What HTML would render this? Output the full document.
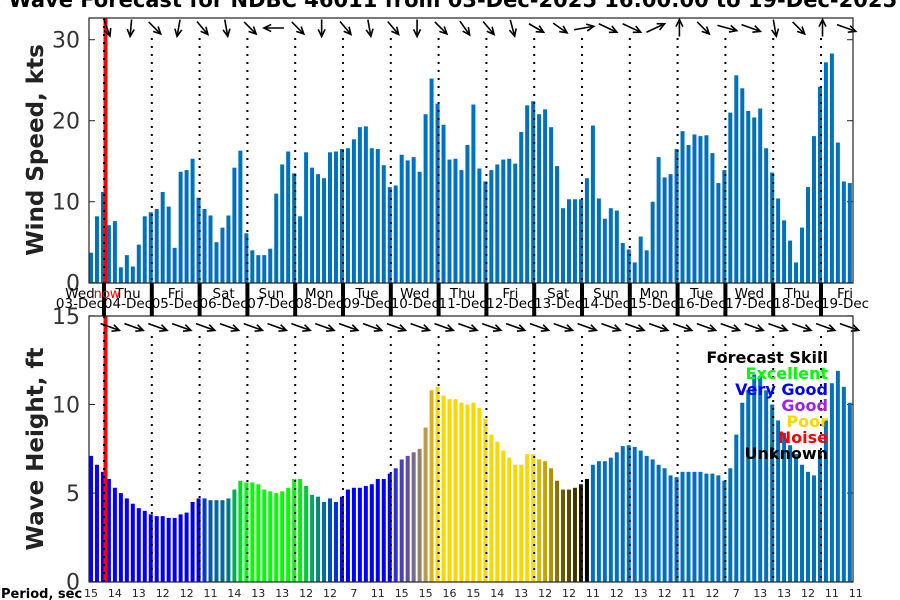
<!DOCTYPE html>
<html><head><meta charset="utf-8"><style>
html,body{margin:0;padding:0;background:#fff;}
svg{display:block;font-family:"DejaVu Sans","Liberation Sans",sans-serif;}
</style></head><body>
<svg id="chart" width="900" height="600" viewBox="0 0 900 600" xmlns="http://www.w3.org/2000/svg">
<text x="462" y="7" text-anchor="middle" font-size="21" font-weight="bold" fill="#000">Wind &amp; Wave Forecast for NDBC 46011 from 03-Dec-2025 16:00:00 to 19-Dec-2025 13:00:00</text>
<g id="wind"></g>
<g id="wave"></g>
<g id="days"></g>
<text transform="translate(43,150) rotate(-90)" text-anchor="middle" font-size="23" font-weight="bold" fill="#222">Wind Speed, kts</text>
<text transform="translate(43,449) rotate(-90)" text-anchor="middle" font-size="23" font-weight="bold" fill="#222">Wave Height, ft</text>
<text x="1" y="598" font-size="13" font-weight="bold" fill="#000">Period, sec</text>
<g font-size="16" font-weight="bold" text-anchor="end">
<text x="828" y="363" fill="#000">Forecast Skill</text>
<text x="828" y="379" fill="#00ff00">Excellent</text>
<text x="828" y="395" fill="#0000ff">Very Good</text>
<text x="828" y="411" fill="#a020f0">Good</text>
<text x="828" y="427" fill="#ffd700">Poor</text>
<text x="828" y="443" fill="#ff0000">Noise</text>
<text x="828" y="459" fill="#000">Unknown</text>
</g>
</svg>
<script>
const windSpeed=[3.7,8.2,11.2,7.1,7.6,1.9,3.4,2.0,4.7,8.2,8.7,9.1,11.2,9.4,4.3,13.7,13.9,15.3,10.5,9.1,8.3,5.0,6.8,8.3,14.2,16.3,6.1,4.0,3.4,3.4,4.2,11.0,14.6,16.2,13.5,8.2,16.1,14.2,13.4,12.9,16.1,16.2,16.5,16.6,17.7,19.2,19.3,16.6,16.5,14.5,11.8,12.0,15.8,15.1,15.5,13.7,20.8,25.2,22.1,19.5,15.2,15.3,13.9,17.0,22.0,14.1,12.5,13.9,14.6,15.2,15.3,14.7,18.6,21.9,22.4,20.8,21.4,19.2,14.4,9.2,10.3,10.3,10.3,12.9,19.4,10.4,7.9,9.2,8.9,4.9,4.1,2.5,5.7,4.0,10.0,15.5,13.0,13.4,16.5,18.7,17.0,18.3,18.1,18.2,16.0,12.3,13.9,21.0,25.6,24.0,21.2,20.4,21.5,16.6,13.6,10.4,7.7,5.2,2.5,6.8,11.8,18.1,24.2,27.2,28.3,17.3,12.5,12.3];
const waveHeight=[7.1,6.6,6.2,5.8,5.3,5.0,4.7,4.4,4.15,4.0,3.8,3.7,3.7,3.6,3.6,3.8,3.9,4.5,4.7,4.7,4.6,4.6,4.6,4.7,5.2,5.7,5.6,5.6,5.5,5.2,5.1,5.0,5.1,5.3,5.8,5.8,5.4,4.9,4.8,4.5,4.7,4.5,4.8,5.2,5.3,5.3,5.4,5.5,5.8,5.8,6.1,6.4,6.9,7.1,7.3,7.5,8.7,10.8,11.0,10.5,10.3,10.3,10.1,10.0,10.1,9.8,9.2,8.3,7.9,7.4,7.0,6.6,6.6,7.2,7.2,6.9,6.8,6.4,5.7,5.2,5.2,5.3,5.5,5.8,6.6,6.8,6.8,7.0,7.3,7.65,7.7,7.6,7.4,7.1,6.9,6.6,6.4,6.0,5.9,6.2,6.2,6.2,6.2,6.1,6.1,6.0,5.7,6.4,8.3,10.1,10.8,11.7,11.6,10.8,10.0,9.1,8.4,7.7,7.2,6.6,6.2,6.0,7.3,9.1,11.2,11.9,11.0,10.1];
const waveColors=["#0000ff","#0000ff","#0000ff","#0000ff","#0000ff","#0000ff","#0000ff","#0000ff","#0000ff","#0000ff","#0000ff","#0000ff","#0000ff","#0000ff","#0000ff","#0000ff","#0000ff","#0000ff","#0000ff","#0040c0","#005aa8","#00689a","#006a98","#007890","#00b050","#00e020","#00ff00","#00ff00","#00ff00","#00ff00","#00ff00","#00ff00","#00ff00","#00ff00","#00ff00","#00f010","#00cc33","#00a860","#008a78","#00709a","#0050c0","#0030e0","#0010f0","#0000ff","#0000ff","#0000ff","#0000ff","#0000ff","#0000ff","#0000ff","#0000ff","#3030d8","#4a40b8","#6050a0","#786a8a","#9a8070","#b89a50","#d8b020","#ffd700","#ffd700","#ffd700","#ffd700","#ffd700","#ffd700","#ffd700","#ffd700","#ffd700","#ffd700","#ffd700","#ffd700","#ffd700","#ffd700","#ffd700","#ffd700","#ffd700","#dcb800","#c8a400","#b09000","#8a7400","#6a5a00","#584a00","#403400","#201a00","#000000","#0072bd","#0072bd","#0072bd","#0072bd","#0072bd","#0072bd","#0072bd","#0072bd","#0072bd","#0072bd","#0072bd","#0072bd","#0072bd","#0072bd","#0072bd","#0072bd","#0072bd","#0072bd","#0072bd","#0072bd","#0072bd","#0072bd","#0072bd","#0072bd","#0072bd","#0072bd","#0072bd","#0072bd","#0072bd","#0072bd","#0072bd","#0072bd","#0072bd","#0072bd","#0072bd","#0072bd","#0072bd","#0072bd","#0072bd","#0072bd","#0072bd","#0072bd","#0072bd","#0072bd"];
const windArrowAngles=[70,95,45,100,50,80,45,180,45,90,50,80,50,90,45,55,50,75,30,35,-10,25,25,-25,-90,45,15,20,80,45,-90,20];
const waveArrowAngles=[20,20,20,20,20,20,20,20,20,20,20,20,20,20,20,20,20,20,20,20,20,20,20,20,20,20,20,20,20,20,20,20];
const periodLabels=["15","14","13","12","12","11","14","13","13","12","12","7","11","15","15","16","15","14","13","12","12","11","12","13","12","11","12","7","13","13","12","11","11"];
const windTicks=[0,10,20,30];
const waveTicks=[0,5,10,15];
const weekdays=["Wed","Thu","Fri","Sat","Sun","Mon","Tue","Wed","Thu","Fri","Sat","Sun","Mon","Tue","Wed","Thu","Fri"];
const dates=["03-Dec","04-Dec","05-Dec","06-Dec","07-Dec","08-Dec","09-Dec","10-Dec","11-Dec","12-Dec","13-Dec","14-Dec","15-Dec","16-Dec","17-Dec","18-Dec","19-Dec"];

const NS="http://www.w3.org/2000/svg";
function mk(tag,attrs,parent){const e=document.createElementNS(NS,tag);for(const k in attrs)e.setAttribute(k,attrs[k]);parent.appendChild(e);return e;}
const L=89,R=853;
const xBar=i=>91+i*5.975;
const dayX=d=>104+d*47.8;
const yWind=v=>282.7-v*8.1;
const yWave=v=>581.7-v*17.72;
const wind=document.getElementById('wind'),wave=document.getElementById('wave'),days=document.getElementById('days');

function panel(g,top,bot,ticks,yf,name){
  const bx=mk('rect',{x:L,y:top,width:R-L,height:bot-top,fill:'#fff',stroke:'none'},g);
  
  
  ticks.forEach(t=>{
    const y=yf(t);
    const tl=mk('line',{x1:L,x2:L+6,y1:y,y2:y,stroke:'#222','stroke-width':1},g);
    
    
    const tr=mk('line',{x1:R-6,x2:R,y1:y,y2:y,stroke:'#222','stroke-width':1},g);
    
    
    const tx=mk('text',{x:L-9,y:y+8,'text-anchor':'end','font-size':22,fill:'#333'},g);
    tx.textContent=t;
    
    
  });
}
panel(wind,18,283,windTicks,yWind,'wind');
panel(wave,316,582,waveTicks,yWave,'wave');

windSpeed.forEach((v,i)=>{
  const r=mk('rect',{x:xBar(i)-2,y:yWind(v),width:4,height:yWind(0)-yWind(v),fill:'#0072bd'},wind);
  
  
});
waveHeight.forEach((v,i)=>{
  const r=mk('rect',{x:xBar(i)-2,y:yWave(v),width:4,height:yWave(0)-yWave(v),fill:waveColors[i]||'#0072bd'},wave);
  
  
});

for(let d=1;d<=15;d++){
  const x=dayX(d);
  [[wind,18,283],[wave,316,582]].forEach(([g,a,b])=>{
    const l=mk('line',{x1:x,x2:x,y1:a+20,y2:b,stroke:'#000','stroke-width':2,'stroke-dasharray':'2 6'},g);
    
    
  });
}
const nowX=105.5;
[[wind,18,283],[wave,316,582]].forEach(([g,a,b])=>{
  const l=mk('rect',{x:nowX-2,y:a,width:4,height:b-a,fill:'#ff0000'},g);
  
  
  const d=mk('line',{x1:104,x2:104,y1:a,y2:b,stroke:'#000','stroke-width':2,'stroke-dasharray':'2 6'},g);
  
  
});

function arrow(g,cx,cy,ang,len,name){
  const a=ang*Math.PI/180,dx=Math.cos(a),dy=Math.sin(a);
  const x1=cx-dx*len/2,y1=cy-dy*len/2,x2=cx+dx*len/2,y2=cy+dy*len/2;
  const h=8,sp=0.45;
  const p=mk('path',{d:`M${x1},${y1}L${x2},${y2}M${x2-h*Math.cos(a-sp)},${y2-h*Math.sin(a-sp)}L${x2},${y2}L${x2-h*Math.cos(a+sp)},${y2-h*Math.sin(a+sp)}`,stroke:'#000','stroke-width':1.6,fill:'none'},g);
  
  
}
windArrowAngles.forEach((ang,k)=>{
  const len=Math.abs(Math.cos(ang*Math.PI/180))>0.9?20:17;
  arrow(wind,107+k*23.85,28,ang,len,'wind-direction-arrow');
});
waveArrowAngles.forEach((ang,k)=>{
  arrow(wave,110+k*23.85,327,ang,20,'wave-direction-arrow');
});

[[18,283],[316,582]].forEach(([a,b],i)=>{
  const f=mk('rect',{x:L,y:a,width:R-L,height:b-a,fill:'none',stroke:'#222','stroke-width':1.2},i?wave:wind);
  
  
});

for(let d=0;d<=15;d++){
  const x=dayX(d);
  const t=mk('rect',{x:x-2,y:283,width:4,height:33,fill:'#000'},days);
  
  
}
weekdays.forEach((w,i)=>{
  const cx=i===0?80:dayX(i-1)+24;
  const t1=mk('text',{x:cx,y:298,'text-anchor':'middle','font-size':13.5,fill:'#000'},days);
  t1.textContent=w;
  
  
  const t2=mk('text',{x:cx,y:308,'text-anchor':'middle','font-size':13.5,fill:'#000'},days);
  t2.textContent=dates[i];
  
  
});
const nw=mk('text',{x:107,y:298,'text-anchor':'middle','font-size':13,fill:'#ff0000'},days);
nw.textContent='now';



periodLabels.forEach((p,k)=>{
  const t=mk('text',{x:xBar(k*4),y:597,'text-anchor':'middle','font-size':11,fill:'#222'},days);
  t.textContent=p;
  
  
});
</script>
</body></html>
